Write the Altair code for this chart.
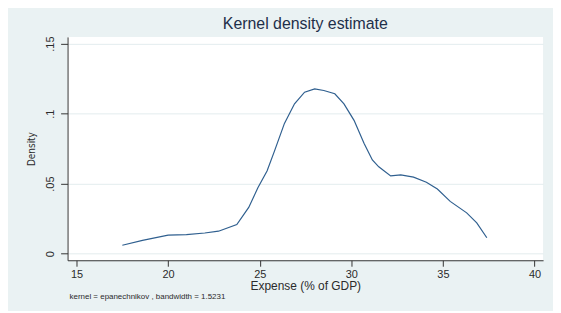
import altair as alt
import pandas as pd

# Kernel density curve
expense = [17.5, 18.6, 20.0, 21.0, 22.0, 22.75, 23.75, 24.4, 24.9, 25.4, 25.8,
           26.35, 26.9, 27.45, 28.0, 28.5, 29.1, 29.6, 30.15, 30.7, 31.15, 31.5,
           32.15, 32.7, 33.4, 34.1, 34.7, 35.4, 36.3, 36.85, 37.4]
density = [0.006, 0.0094, 0.0132, 0.0135, 0.0147, 0.016, 0.0208, 0.033, 0.047,
           0.059, 0.073, 0.093, 0.107, 0.1153, 0.1177, 0.1165, 0.1142, 0.107,
           0.0952, 0.0787, 0.0669, 0.062, 0.0555, 0.0562, 0.0546, 0.051, 0.0461,
           0.0373, 0.0291, 0.022, 0.0113]

x_ticks = [15, 20, 25, 30, 35, 40]
y_ticks = [0, 0.05, 0.1, 0.15]
note = ["kernel = epanechnikov , bandwidth = 1.5231"]

df = pd.DataFrame({"x": expense, "y": density})

bg = "#EAF2F3"
ink = "#2b2b2b"

x_enc = alt.X("x:Q", title="Expense (% of GDP)",
              scale=alt.Scale(domain=[14.51, 40.47], nice=False, zero=False),
              axis=alt.Axis(values=x_ticks, grid=False, tickSize=6, labelPadding=2,
                            labelFontSize=11, titleFontSize=12, titlePadding=1,
                            labelFont="Liberation Sans", titleFont="Liberation Sans",
                            labelColor=ink, titleColor=ink, titleFontWeight="normal",
                            domainColor="#333333", tickColor="#333333", labelFlush=False))
y_enc = alt.Y("y:Q", title="Density",
              scale=alt.Scale(domain=[-0.00475, 0.1548], nice=False, zero=False),
              axis=alt.Axis(values=y_ticks, grid=True, gridColor="#E3ECEE", gridWidth=1,
                            tickSize=7, labelPadding=5, labelAngle=270,
                            labelExpr="datum.value == 0 ? '0' : replace(toString(datum.value), '0.', '.')",
                            labelFontSize=11, titleFontSize=10, titlePadding=8,
                            labelFont="Liberation Sans",
                            titleFont="DejaVu Sans Condensed, Liberation Sans, sans-serif",
                            labelColor=ink, titleColor=ink, titleFontWeight="normal",
                            domainColor="#333333", tickColor="#333333", labelFlush=False))

line = alt.Chart(df).mark_line(color="#2f5f8f", strokeWidth=1.2).encode(x=x_enc, y=y_enc)

note_df = pd.DataFrame({"t": note})
foot = alt.Chart(note_df).mark_text(align="left", baseline="middle", fontSize=8,
                                    font="Liberation Sans", color=ink).encode(
    text="t:N", x=alt.value(2), y=alt.value(262))

chart = alt.layer(line, foot).properties(
    width=479, height=225,
    title=alt.TitleParams("Kernel density estimate", fontSize=16, font="Liberation Sans",
                          fontWeight="normal", color="#1e2f4a", anchor="middle", offset=4),
    background=bg,
    padding={"left": 60, "top": 28, "right": 10, "bottom": 50},
    autosize=alt.AutoSizeParams(type="none"),
).configure_view(fill="white", stroke=None)

chart.save("out.html", embed_options={"renderer": "svg", "actions": False})
